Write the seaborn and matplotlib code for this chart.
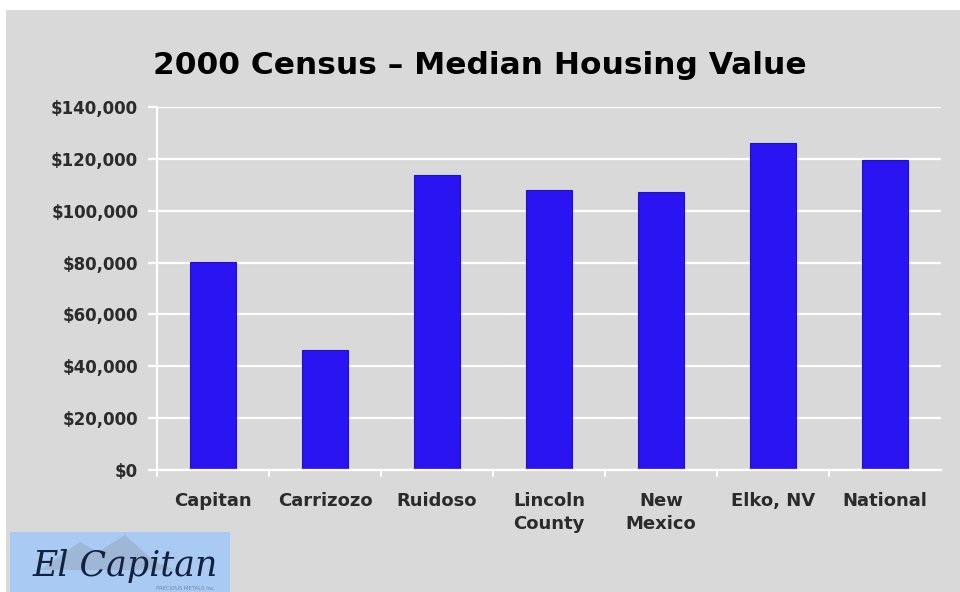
import matplotlib
matplotlib.use("Agg")
import matplotlib.pyplot as plt
import seaborn as sns
import pandas as pd
from matplotlib.patches import Rectangle, Polygon
from matplotlib.ticker import FuncFormatter, FixedLocator

categories = ["Capitan", "Carrizozo", "Ruidoso", "Lincoln\nCounty", "New\nMexico", "Elko, NV", "National"]
values = [80400, 46300, 113700, 108000, 107300, 126300, 119600]
yticks = [0, 20000, 40000, 60000, 80000, 100000, 120000, 140000]
title = "2000 Census \u2013 Median Housing Value"

sns.set_theme(style="white")
plt.rcParams['font.family'] = ['DejaVu Sans']

BG = "#D9D9D9"
BAR = "#2A14F2"

fig = plt.figure(figsize=(9.6, 5.92), dpi=100)
fig.patch.set_facecolor("white")
# gray slide panel (white margin on top and left)
fig.patches.append(Rectangle((6/960, 0), 1, 1 - 10/592, transform=fig.transFigure,
                             facecolor=BG, edgecolor="none", zorder=-10))

ax = fig.add_axes([157/960, 1 - 470/592, (941 - 157)/960, (470 - 107)/592])
ax.set_facecolor(BG)

df = pd.DataFrame({"cat": categories, "val": values})
sns.barplot(data=df, x="cat", y="val", color=BAR, width=0.41, ax=ax,
            saturation=1, edgecolor="#1E10C8", linewidth=0.8, zorder=3)

ax.set_xlim(-0.5, len(categories) - 0.5)
ax.set_ylim(0, 140000)
ax.set_yticks(yticks)
ax.yaxis.set_major_formatter(FuncFormatter(lambda v, p: "${:,.0f}".format(v)))
ax.grid(axis="y", color="white", linewidth=1.6, zorder=0)
ax.grid(axis="x", visible=False)

for side in ["top", "right"]:
    ax.spines[side].set_visible(False)
for side in ["left", "bottom"]:
    ax.spines[side].set_visible(True)
    ax.spines[side].set_color("white")
    ax.spines[side].set_linewidth(1.6)
    ax.spines[side].set_zorder(4)

ax.set_xlabel("")
ax.set_ylabel("")
ax.tick_params(axis="y", which="major", length=6.5, width=1.6, color="white",
               labelsize=12, labelcolor="#2b2b2b", pad=7, left=True)
for lab in ax.get_yticklabels():
    lab.set_fontweight("bold")

# x: labels at centers, white tick marks at category boundaries
ax.tick_params(axis="x", which="major", length=0, labelsize=13, labelcolor="#2b2b2b", pad=16)
for lab in ax.get_xticklabels():
    lab.set_fontweight("bold")
    lab.set_linespacing(1.35)
ax.xaxis.set_minor_locator(FixedLocator([i + 0.5 for i in range(len(categories) - 1)] + [-0.5]))
ax.tick_params(axis="x", which="minor", length=5, width=1.4, color="white", bottom=True)

fig.text(0.5, 1 - 66/592, title, ha="center", va="center", fontsize=22.5,
         fontweight="bold", color="black")

# logo
fig.patches.append(Rectangle((10/960, 0), 220/960, 60/592, transform=fig.transFigure,
                             facecolor="#A9CBF3", edgecolor="none", zorder=1))
fig.patches.append(Polygon([(40/960, 22/592), (80/960, 50/592), (98/960, 40/592),
                            (125/960, 57/592), (155/960, 30/592), (175/960, 22/592)],
                           closed=True, transform=fig.transFigure,
                           facecolor="#9DB3CF", edgecolor="none", alpha=0.8, zorder=2))
fig.text(125/960, 26/592, "El Capitan", ha="center", va="center", fontsize=25,
         fontstyle="italic", family=["DejaVu Serif"], color="#14213D", zorder=5)
fig.text(186/960, 3.5/592, "PRECIOUS METALS Inc.", ha="center", va="center", fontsize=3.8,
         color="#6F86A8", zorder=5)

fig.savefig("out.png", dpi=100, facecolor=fig.get_facecolor())
